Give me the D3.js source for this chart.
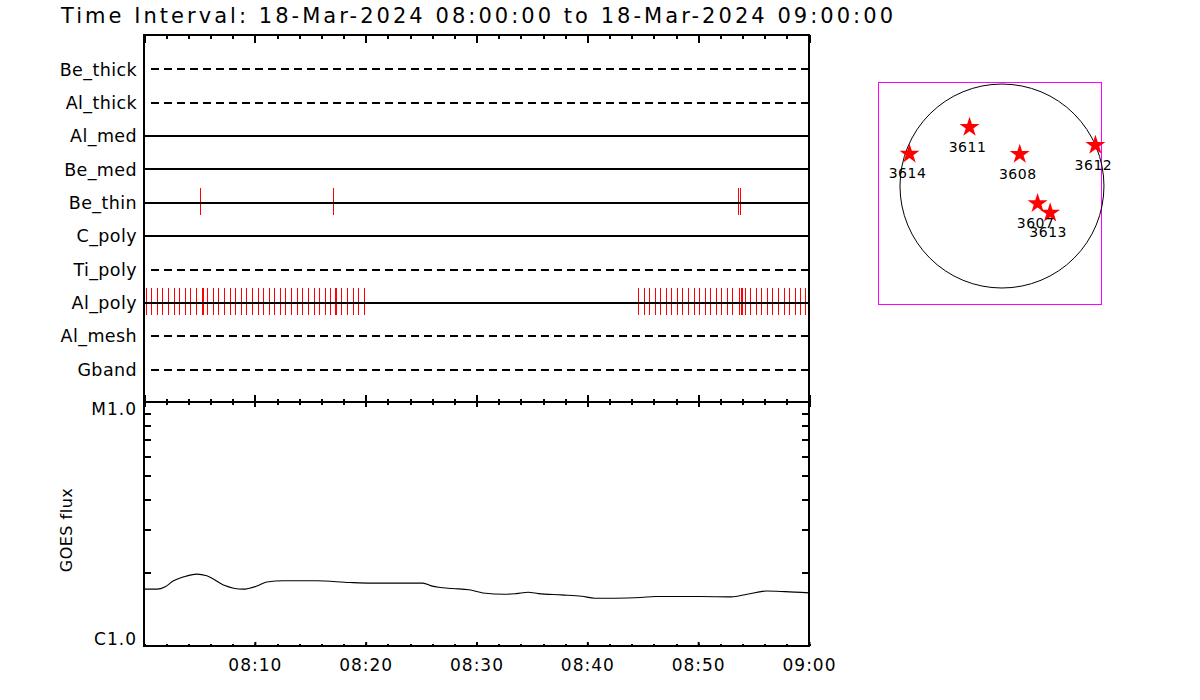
<!DOCTYPE html>
<html>
<head>
<meta charset="utf-8">
<script src="https://cdn.jsdelivr.net/npm/d3@7"></script>
<style>
  html, body { margin: 0; padding: 0; background: #fff; }
  svg { display: block; font-family: "DejaVu Sans", sans-serif; }
</style>
</head>
<body>
<svg id="chart" width="1200" height="700"></svg>
<script>
// ---------------- DATA ----------------
const titleText = "Time Interval: 18-Mar-2024 08:00:00 to 18-Mar-2024 09:00:00";
const obsDate = "2024-03-18";
const timeStart = "08:00:00";
const timeEnd = "09:00:00";

const rowNames = ["Be_thick", "Al_thick", "Al_med", "Be_med", "Be_thin", "C_poly", "Ti_poly", "Al_poly", "Al_mesh", "Gband"];
const rowActive = [false, false, true, true, true, true, false, true, false, false];

const beThinTimes = ["08:05:02", "08:05:04", "08:17:05", "08:53:37", "08:53:48"];
const alPolyTimes = [
  "08:00:09", "08:00:40", "08:01:10", "08:01:40", "08:02:10", "08:02:40", "08:03:10", "08:03:40",
  "08:04:11", "08:04:41", "08:05:12", "08:05:17", "08:05:42", "08:06:12", "08:06:42", "08:07:13",
  "08:07:43", "08:08:13", "08:08:43", "08:09:14", "08:09:44", "08:10:15", "08:10:45", "08:11:15",
  "08:11:45", "08:12:16", "08:12:46", "08:13:16", "08:13:47", "08:14:17", "08:14:47", "08:15:18",
  "08:15:48", "08:16:18", "08:16:48", "08:17:13", "08:17:19", "08:17:49", "08:18:19", "08:18:49",
  "08:19:20", "08:19:50",
  "08:44:36", "08:45:05", "08:45:36", "08:46:05", "08:46:36", "08:47:05", "08:47:35", "08:48:05",
  "08:48:34", "08:49:05", "08:49:36", "08:50:04", "08:50:35", "08:51:04", "08:51:35", "08:52:05",
  "08:52:36", "08:53:05", "08:53:42", "08:53:52", "08:53:58", "08:54:12", "08:54:42", "08:55:11",
  "08:55:42", "08:56:13", "08:56:41", "08:57:12", "08:57:43", "08:58:12", "08:58:42", "08:59:11",
  "08:59:40"
];

const goesTimes = [
  "08:00:00", "08:01:10", "08:01:55", "08:02:40", "08:03:35", "08:04:45", "08:05:40", "08:07:10",
  "08:08:55", "08:10:10", "08:11:05", "08:12:35", "08:15:35", "08:18:35", "08:20:30", "08:22:50",
  "08:25:10", "08:26:00", "08:26:35", "08:27:50", "08:29:20", "08:30:35", "08:32:35", "08:33:35",
  "08:34:40", "08:35:35", "08:37:40", "08:39:30", "08:40:40", "08:42:30", "08:44:50", "08:46:10",
  "08:50:10", "08:53:00", "08:54:25", "08:56:10", "08:57:50", "09:00:00"
];
const goesFlux = [
  1.71e-6, 1.71e-6, 1.75e-6, 1.85e-6, 1.92e-6, 1.97e-6, 1.94e-6, 1.78e-6,
  1.71e-6, 1.76e-6, 1.83e-6, 1.85e-6, 1.85e-6, 1.82e-6, 1.81e-6, 1.81e-6,
  1.81e-6, 1.76e-6, 1.74e-6, 1.72e-6, 1.70e-6, 1.65e-6, 1.63e-6, 1.64e-6,
  1.66e-6, 1.64e-6, 1.62e-6, 1.60e-6, 1.57e-6, 1.57e-6, 1.58e-6, 1.595e-6,
  1.595e-6, 1.59e-6, 1.63e-6, 1.68e-6, 1.67e-6, 1.65e-6
];
const fluxDomain = [1e-6, 1e-5];
const fluxMinorTicks = [2e-6, 3e-6, 4e-6, 5e-6, 6e-6, 7e-6, 8e-6, 9e-6];
const fluxTickLabels = ["C1.0", "M1.0"];
const timeTickLabels = ["08:10", "08:20", "08:30", "08:40", "08:50", "09:00"];
const yAxisTitle = "GOES flux";

// Active regions on the solar disk (heliocentric arcsec)
const arNumbers = ["3614", "3611", "3608", "3612", "3607", "3613"];
const arX = [-875, -307, 168, 884, 337, 456];
const arY = [304, 556, 301, 385, -165, -254];
const solarRadius = 965;
const mapXDomain = [-1173, 937];
const mapYDomain = [-1116, 984];

// ---------------- LAYOUT ----------------
const svg = d3.select("#chart");
const L = 144, R = 809, T1 = 35, B1 = 402, B2 = 646;
const parseT = d3.utcParse("%Y-%m-%d %H:%M:%S");
const toDate = s => parseT(obsDate + " " + s);

const x = d3.scaleUtc().domain([toDate(timeStart), toDate(timeEnd)]).range([L, R]);
const yRow = d3.scalePoint().domain(rowNames).range([T1, B1]).padding(1);
const yFlux = d3.scaleLog().domain(fluxDomain).range([B2, B1]);

const minor = d3.utcMinute.every(2).range(x.domain()[0], d3.utcSecond.offset(x.domain()[1], 1));
const major = d3.utcMinute.every(10).range(x.domain()[0], d3.utcSecond.offset(x.domain()[1], 1));

// Title
svg.append("text")
  .attr("x", 61).attr("y", 23)
  .attr("font-size", 21)
  .attr("textLength", 832).attr("lengthAdjust", "spacing")
  .attr("fill", "#000")
  .text(titleText);

// ---------- Top panel: filter rows ----------
const topG = svg.append("g");

function eventTicks(times, row) {
  topG.append("g").selectAll("line").data(times).join("line")
    .attr("x1", d => Math.round(x(toDate(d))) + 0.5)
    .attr("x2", d => Math.round(x(toDate(d))) + 0.5)
    .attr("y1", yRow(row) - 14).attr("y2", yRow(row) + 13)
    .attr("stroke", "#ff0000").attr("stroke-width", 1)
    .attr("shape-rendering", "crispEdges");
}
eventTicks(beThinTimes, "Be_thin");
eventTicks(alPolyTimes, "Al_poly");

topG.append("g").selectAll("line").data(rowNames).join("line")
  .attr("x1", (d, i) => rowActive[i] ? L : L + 7)
  .attr("x2", R)
  .attr("y1", d => Math.round(yRow(d)) + 0.5)
  .attr("y2", d => Math.round(yRow(d)) + 0.5)
  .attr("stroke", "#000").attr("stroke-width", 2)
  .attr("stroke-dasharray", (d, i) => rowActive[i] ? null : "8,5")
  .attr("shape-rendering", "crispEdges");

const rowAxis = topG.append("g").attr("transform", `translate(${L},0)`)
  .call(d3.axisLeft(yRow).tickSize(0).tickPadding(7));
rowAxis.select(".domain").remove();
rowAxis.selectAll("text").attr("font-size", 17.5).attr("font-family", "DejaVu Sans")
  .attr("fill", "#000").attr("letter-spacing", 0.4).attr("dy", "0.38em");

function tickAxis(gen, values, size, tx, ty) {
  const g = svg.append("g").attr("transform", `translate(${tx},${ty})`)
    .call(gen.tickValues(values).tickSize(size).tickFormat(""));
  g.select(".domain").remove();
  g.selectAll("line").attr("stroke", "#000").attr("stroke-width", 2).attr("shape-rendering", "crispEdges");
  return g;
}
tickAxis(d3.axisBottom(x), minor, 4, 0, T1);
tickAxis(d3.axisBottom(x), major, 8, 0, T1);
tickAxis(d3.axisBottom(x), minor, -3, 0, B1);
tickAxis(d3.axisBottom(x), major, -7, 0, B1);
tickAxis(d3.axisBottom(x), minor, 3, 0, B1);
tickAxis(d3.axisBottom(x), major, 5, 0, B1);
tickAxis(d3.axisBottom(x), minor, -2, 0, B2);

// ---------- Bottom panel: GOES ----------
const goesData = goesTimes.map((t, i) => ({ t: toDate(t), f: goesFlux[i] }));
svg.append("path").datum(goesData)
  .attr("d", d3.line().x(d => x(d.t)).y(d => yFlux(d.f)).curve(d3.curveMonotoneX))
  .attr("fill", "none").attr("stroke", "#000").attr("stroke-width", 1.1);

tickAxis(d3.axisRight(yFlux), fluxMinorTicks, 7, L, 0);
tickAxis(d3.axisLeft(yFlux), fluxMinorTicks, 7, R, 0);

const yLab = svg.append("g").attr("transform", `translate(${L},0)`)
  .call(d3.axisLeft(yFlux).tickValues(fluxDomain).tickSize(0).tickPadding(7)
    .tickFormat((d, i) => fluxTickLabels[i]));
yLab.select(".domain").remove();
yLab.selectAll("text").attr("font-size", 17).attr("font-family", "DejaVu Sans")
  .attr("fill", "#000").attr("letter-spacing", 1)
  .attr("dy", (d, i) => i === 0 ? "-0.08em" : "0.76em");

const xLab = svg.append("g").attr("transform", `translate(0,${B2})`)
  .call(d3.axisBottom(x).tickValues(major.slice(1)).tickSize(-4).tickPadding(13)
    .tickFormat((d, i) => timeTickLabels[i]));
xLab.select(".domain").remove();
xLab.selectAll("line").attr("stroke", "#000").attr("stroke-width", 2);
xLab.selectAll("text").attr("font-size", 17).attr("font-family", "DejaVu Sans")
  .attr("fill", "#000").attr("letter-spacing", 1);

svg.append("text")
  .attr("transform", `translate(72,530) rotate(-90)`)
  .attr("text-anchor", "middle")
  .attr("font-size", 16).attr("letter-spacing", 0.5)
  .attr("fill", "#000")
  .text(yAxisTitle);

const frame = svg.append("g").attr("stroke", "#000").attr("stroke-width", 2).attr("fill", "none")
  .attr("shape-rendering", "crispEdges");
frame.append("rect").attr("x", L).attr("y", T1).attr("width", R - L).attr("height", B1 - T1);
frame.append("rect").attr("x", L).attr("y", B1).attr("width", R - L).attr("height", B2 - B1);

// ---------- Sun map ----------
const mx = d3.scaleLinear().domain(mapXDomain).range([878, 1101]);
const my = d3.scaleLinear().domain(mapYDomain).range([304, 82]);
const map = svg.append("g");
map.append("rect")
  .attr("x", mx(mapXDomain[0]) + 0.5).attr("y", my(mapYDomain[1]) + 0.5)
  .attr("width", mx(mapXDomain[1]) - mx(mapXDomain[0]))
  .attr("height", my(mapYDomain[0]) - my(mapYDomain[1]))
  .attr("fill", "none").attr("stroke", "#ff00ff").attr("stroke-width", 1);
map.append("circle")
  .attr("cx", mx(0)).attr("cy", my(0))
  .attr("r", mx(solarRadius) - mx(0))
  .attr("fill", "none").attr("stroke", "#000").attr("stroke-width", 1);

const star = d3.symbol().type(d3.symbolStar).size(124);
map.append("g").selectAll("path").data(arNumbers).join("path")
  .attr("transform", (d, i) => `translate(${mx(arX[i])},${my(arY[i])})`)
  .attr("d", star)
  .attr("fill", "#ff0000");
map.append("g").selectAll("text").data(arNumbers).join("text")
  .attr("x", (d, i) => mx(arX[i]) - 2)
  .attr("y", (d, i) => my(arY[i]) + 24.5)
  .attr("text-anchor", "middle")
  .attr("font-size", 14).attr("letter-spacing", 0.5)
  .attr("fill", "#000")
  .text(d => d);
</script>
</body>
</html>
